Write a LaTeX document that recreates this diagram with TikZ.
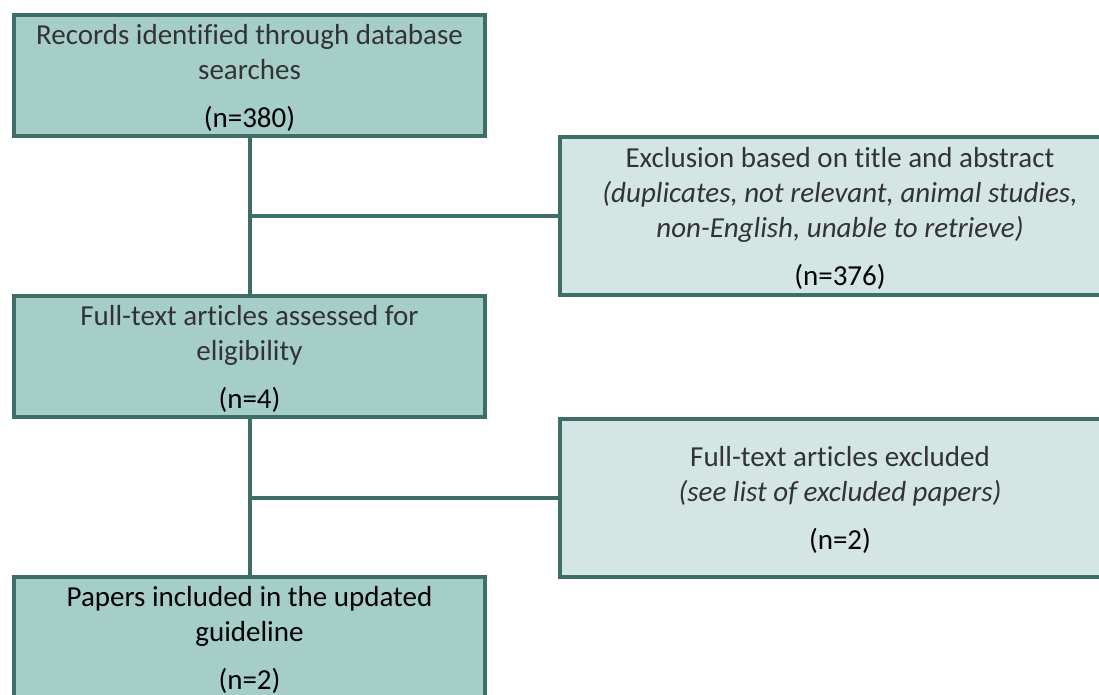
\documentclass[tikz,border=0pt]{standalone}
\usepackage{fontspec}
\setmainfont{Carlito}[Ligatures=CommonOff]
\definecolor{edge}{HTML}{3E6E67}
\definecolor{fillA}{HTML}{A6CEC8}
\definecolor{fillB}{HTML}{D3E6E3}
\begin{document}
\begin{tikzpicture}[x=0.5pt,y=-0.5pt,
 box/.style={draw=edge, line width=2pt, rectangle, align=center, inner sep=0pt,
   font=\fontsize{14.5}{17.5}\selectfont, text=black!80, text depth=0pt},
 main/.style={box, fill=fillA, minimum width=235.5pt, minimum height=60.5pt},
 side/.style={box, fill=fillB, minimum width=280pt, minimum height=79pt},
 link/.style={draw=edge, line width=2pt}]
\useasboundingbox (0,0) rectangle (1099,695);
\node[main] (b1) at (249.5,75.75) {Records identified through database\\searches\\[6.5pt]\textcolor{black}{(n=380)}};
\node[side] (b2) at (840,216) {Exclusion based on title and abstract\\\textit{(duplicates, not relevant, animal studies,}\\\textit{non-English, unable to retrieve)}\\[6.5pt]\textcolor{black}{(n=376)}};
\node[main] (b3) at (249.5,356.5) {Full-text articles assessed for\\eligibility\\[6.5pt]\textcolor{black}{(n=4)}};
\node[side] (b4) at (840,498) {Full-text articles excluded\\\textit{(see list of excluded papers)}\\[6.5pt]\textcolor{black}{(n=2)}};
\node[main, text=black] (b5) at (249.5,637.5) {Papers included in the updated\\guideline\\[6.5pt](n=2)};
\draw[link] (b1.south) -- (b3.north);
\draw[link] (b1.south |- b2.west) -- (b2.west);
\draw[link] (b3.south) -- (b5.north);
\draw[link] (b3.south |- b4.west) -- (b4.west);
\end{tikzpicture}
\end{document}
